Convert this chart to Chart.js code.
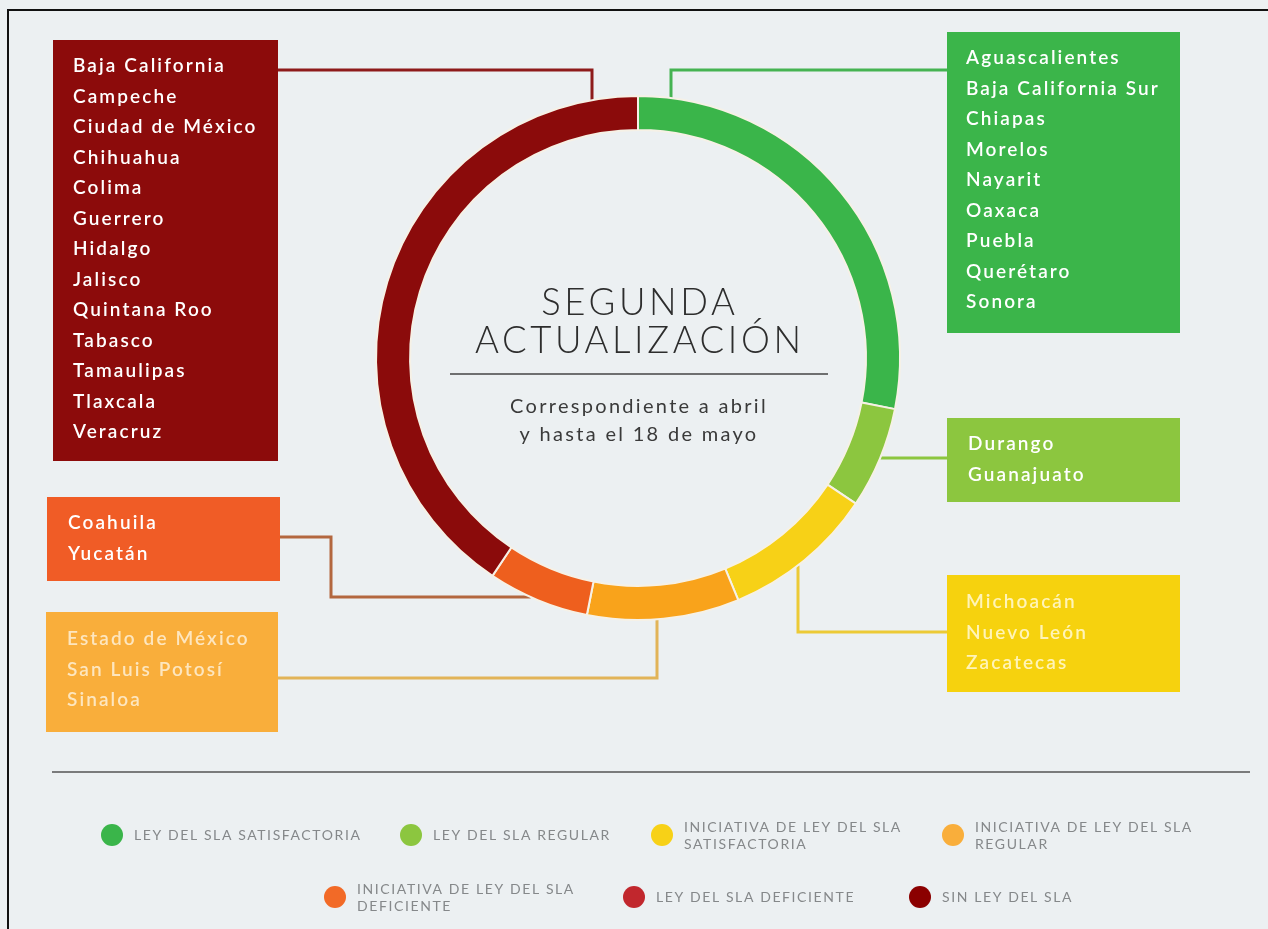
<!DOCTYPE html>
<html>
<head>
<meta charset="utf-8">
<script src="https://cdn.jsdelivr.net/npm/chart.js@4.4.1/dist/chart.umd.min.js"></script>
<style>
  body { margin: 0; background: #ecf0f2; }
  #myChart { display: block; }
</style>
</head>
<body>
<canvas id="myChart" width="1268" height="929"></canvas>
<script>
// categories in drawing order (clockwise from the top)
const categories = [
  "LEY DEL SLA SATISFACTORIA",
  "LEY DEL SLA REGULAR",
  "INICIATIVA DE LEY DEL SLA SATISFACTORIA",
  "INICIATIVA DE LEY DEL SLA REGULAR",
  "INICIATIVA DE LEY DEL SLA DEFICIENTE",
  "LEY DEL SLA DEFICIENTE",
  "SIN LEY DEL SLA"
];

const statesSatisfactoria = ["Aguascalientes", "Baja California Sur", "Chiapas", "Morelos", "Nayarit", "Oaxaca", "Puebla", "Querétaro", "Sonora"];
const statesRegular = ["Durango", "Guanajuato"];
const statesIniSatisfactoria = ["Michoacán", "Nuevo León", "Zacatecas"];
const statesIniRegular = ["Estado de México", "San Luis Potosí", "Sinaloa"];
const statesIniDeficiente = ["Coahuila", "Yucatán"];
const statesDeficiente = [];
const statesSinLey = ["Baja California", "Campeche", "Ciudad de México", "Chihuahua", "Colima", "Guerrero", "Hidalgo", "Jalisco", "Quintana Roo", "Tabasco", "Tamaulipas", "Tlaxcala", "Veracruz"];

const stateCounts = [9, 2, 3, 3, 2, 0, 13];

const centerTitle = ["SEGUNDA", "ACTUALIZACIÓN"];
const centerSubtitle = ["Correspondiente a abril", "y hasta el 18 de mayo"];

const stateLists = [statesSatisfactoria, statesRegular, statesIniSatisfactoria, statesIniRegular, statesIniDeficiente, statesDeficiente, statesSinLey];

// colours
const ringColors = ["#3ab54a", "#8cc63f", "#f7d117", "#f9a31b", "#ee5f1e", "#c1272d", "#8b0b0b"];
const boxColors = ["#3bb54a", "#8cc63f", "#f6d20e", "#f9ae3b", "#f05c26", "#c1272d", "#8c0b0b"];
const boxText = ["#ffffff", "#ffffff", "#fff4b8", "#fde6bf", "#ffffff", "#ffffff", "#ffffff"];
const lineColors = ["#45b352", "#8cc63f", "#ecca36", "#e2b458", "#b3673f", "#c1272d", "#8e1b1b"];
const dotColors = ["#3ab54a", "#8cc63f", "#f7d117", "#f9ae3b", "#f26a27", "#c1272d", "#8b0000"];

// box + connector layout, keyed by category index
const boxes = {
  0: { x: 947, y: 32, w: 233, h: 301, tx: 966, ty: 58, path: [[947, 70], [671, 70]], end: "down" },
  1: { x: 947, y: 418, w: 233, h: 84, tx: 968, ty: 444, path: [[947, 458]], end: "left" },
  2: { x: 947, y: 575, w: 233, h: 117, tx: 966, ty: 602, path: [[947, 632], [798, 632]], end: "up" },
  3: { x: 46, y: 612, w: 232, h: 120, tx: 67, ty: 639, path: [[278, 678], [657, 678]], end: "up" },
  4: { x: 47, y: 497, w: 233, h: 84, tx: 68, ty: 523, path: [[280, 537], [331, 537], [331, 597]], end: "right" },
  6: { x: 53, y: 40, w: 225, h: 421, tx: 73, ty: 66, path: [[278, 70], [592, 70]], end: "down" }
};

// legend layout: [category index, dot x, dot y]
const legendSpots = [[0, 112, 835], [1, 411, 835], [2, 662, 835], [3, 953, 835], [4, 335, 897], [5, 634, 897], [6, 920, 897]];

function ringPoint(arc, last, dir) {
  const R = arc.outerRadius;
  if (dir === "down" || dir === "up") {
    const dx = last[0] - arc.x;
    const dy = Math.sqrt(Math.max(R * R - dx * dx, 0));
    return [last[0], dir === "down" ? arc.y - dy : arc.y + dy];
  }
  const dy = last[1] - arc.y;
  const dx = Math.sqrt(Math.max(R * R - dy * dy, 0));
  return [dir === "left" ? arc.x + dx : arc.x - dx, last[1]];
}

const backdrop = {
  id: "backdrop",
  beforeDraw(chart) {
    const ctx = chart.ctx;
    ctx.save();
    ctx.fillStyle = "#ecf0f2";
    ctx.fillRect(0, 0, chart.width, chart.height);
    // frame (top + left)
    ctx.strokeStyle = "#111";
    ctx.lineWidth = 2;
    ctx.beginPath();
    ctx.moveTo(8, chart.height);
    ctx.lineTo(8, 10);
    ctx.lineTo(chart.width, 10);
    ctx.stroke();

    // connectors (under the ring)
    const arc = chart.getDatasetMeta(0).data[0];
    ctx.lineWidth = 3;
    ctx.lineJoin = "miter";
    Object.keys(boxes).forEach((k) => {
      const b = boxes[k];
      const pts = b.path.slice();
      pts.push(ringPoint(arc, pts[pts.length - 1], b.end));
      ctx.strokeStyle = lineColors[k];
      ctx.beginPath();
      ctx.moveTo(pts[0][0], pts[0][1]);
      for (let i = 1; i < pts.length; i++) ctx.lineTo(pts[i][0], pts[i][1]);
      ctx.stroke();
    });
    ctx.restore();
  }
};

const overlay = {
  id: "overlay",
  afterDraw(chart) {
    const ctx = chart.ctx;
    const arc = chart.getDatasetMeta(0).data[0];
    ctx.save();

    // state boxes
    Object.keys(boxes).forEach((k) => {
      const b = boxes[k];
      ctx.fillStyle = boxColors[k];
      ctx.fillRect(b.x, b.y, b.w, b.h);
      ctx.fillStyle = boxText[k];
      ctx.font = "600 19px Lato";
      ctx.letterSpacing = "2.1px";
      ctx.textAlign = "left";
      ctx.textBaseline = "middle";
      stateLists[k].forEach((s, i) => ctx.fillText(s, b.tx, b.ty + i * 30.5));
    });

    // center text
    const cx = arc.x;
    ctx.textAlign = "center";
    ctx.textBaseline = "middle";
    ctx.fillStyle = "#2d2d2d";
    ctx.font = "300 36.5px Lato";
    ctx.letterSpacing = "3.6px";
    ctx.fillText(centerTitle[0], cx + 1.8, 303);
    ctx.fillText(centerTitle[1], cx + 1.8, 341);
    ctx.strokeStyle = "#444";
    ctx.lineWidth = 1.5;
    ctx.beginPath();
    ctx.moveTo(450, 374);
    ctx.lineTo(828, 374);
    ctx.stroke();
    ctx.fillStyle = "#3a3a3a";
    ctx.font = "400 20px Lato";
    ctx.letterSpacing = "2.3px";
    ctx.fillText(centerSubtitle[0], cx + 1, 407);
    ctx.fillText(centerSubtitle[1], cx + 1, 435);

    // separator
    ctx.strokeStyle = "#555";
    ctx.lineWidth = 1.5;
    ctx.beginPath();
    ctx.moveTo(52, 772);
    ctx.lineTo(1250, 772);
    ctx.stroke();

    // legend
    ctx.textAlign = "left";
    ctx.font = "400 14px Lato";
    ctx.letterSpacing = "1.6px";
    legendSpots.forEach(([idx, x, y]) => {
      ctx.fillStyle = dotColors[idx];
      ctx.beginPath();
      ctx.arc(x, y, 11, 0, Math.PI * 2);
      ctx.fill();
      ctx.fillStyle = "#85888a";
      const label = categories[idx];
      if (label.startsWith("INICIATIVA")) {
        const cut = label.indexOf("SLA") + 3;
        ctx.fillText(label.slice(0, cut), x + 22, y - 8);
        ctx.fillText(label.slice(cut + 1), x + 22, y + 9);
      } else {
        ctx.fillText(label, x + 22, y);
      }
    });
    ctx.restore();
  }
};

new Chart("myChart", {
  type: "doughnut",
  data: {
    labels: categories,
    datasets: [{
      data: stateCounts,
      backgroundColor: ringColors,
      borderColor: "#f6f1e6",
      borderWidth: 2
    }]
  },
  options: {
    responsive: false,
    animation: false,
    cutout: "87%",
    layout: { padding: { left: 375, right: 367, top: 95, bottom: 308 } },
    plugins: {
      legend: { display: false },
      tooltip: { enabled: false }
    }
  },
  plugins: [backdrop, overlay]
});
</script>
</body>
</html>
